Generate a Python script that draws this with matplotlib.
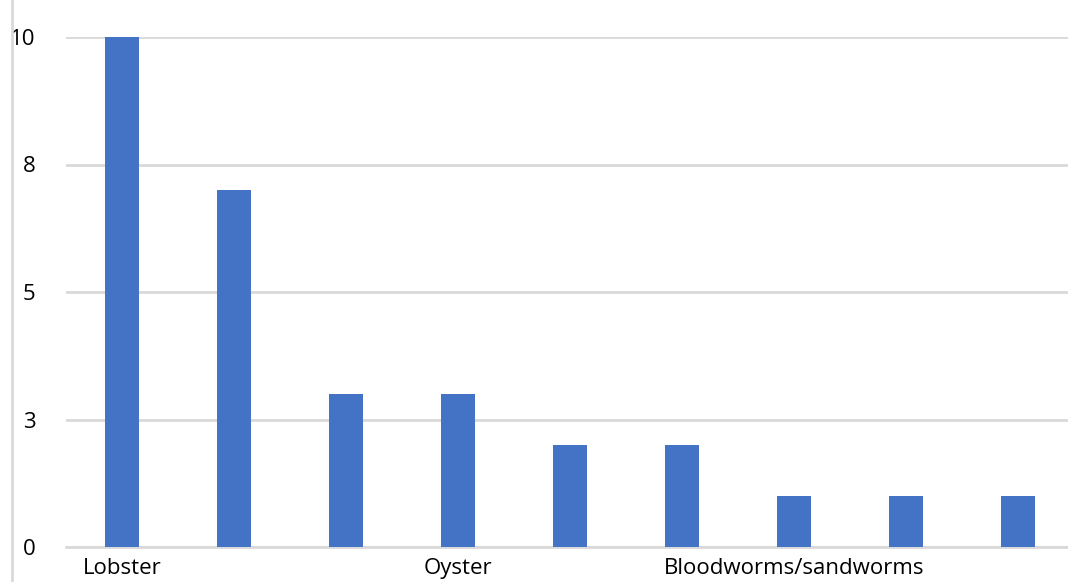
import matplotlib
matplotlib.use("Agg")
import matplotlib.pyplot as plt
from matplotlib.lines import Line2D

# only every third category name is printed on the axis
categories = ["Lobster", "", "", "Oyster", "", "", "Bloodworms/sandworms", "", ""]
values = [10, 7, 3, 3, 2, 2, 1, 1, 1]
yticks = [0, 2.5, 5, 7.5, 10]
ytick_labels = ["0", "3", "5", "8", "10"]

plt.rcParams["font.family"] = ["Open Sans", "DejaVu Sans"]

fig = plt.figure(figsize=(10.68, 5.82), dpi=100)
ax = fig.add_axes([66 / 1068, 35 / 582, 1008 / 1068, 510 / 582])

x = list(range(len(values)))
ax.bar(x, values, width=0.31, color="#4472c4", zorder=3)

ax.set_xlim(-0.5, len(values) - 0.5)
ax.set_ylim(0, 10)
ax.set_xticks(x)
ax.set_xticklabels(categories, fontsize=16)
ax.set_yticks(yticks)
ax.set_yticklabels(ytick_labels, fontsize=16)
ax.tick_params(axis="both", length=0)
ax.tick_params(axis="y", pad=22)
ax.tick_params(axis="x", pad=8)

ax.grid(axis="y", color="#d9d9d9", linewidth=2, zorder=0)
ax.set_axisbelow(True)
for side in ["top", "right", "left"]:
    ax.spines[side].set_visible(False)
ax.spines["bottom"].set_color("#d9d9d9")
ax.spines["bottom"].set_linewidth(2)

# thin grey border line on the far left
fig.add_artist(Line2D([12 / 1068, 12 / 1068], [0, 1], color="#d9d9d9", linewidth=2))

fig.savefig("out.png", dpi=100)
